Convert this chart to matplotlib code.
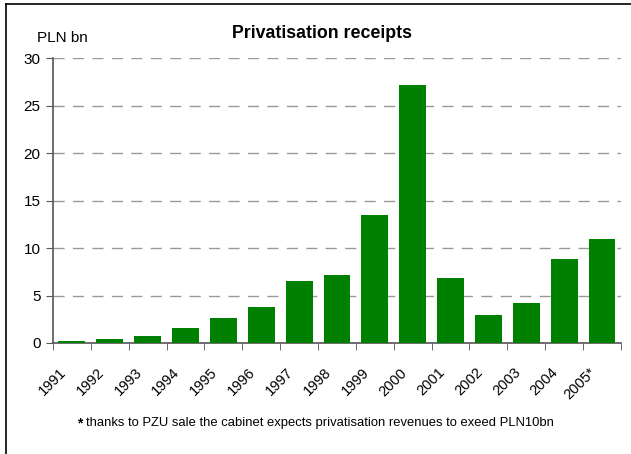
import matplotlib.pyplot as plt
from matplotlib.lines import Line2D
from matplotlib.transforms import ScaledTranslation

plt.rcParams['font.family'] = ['Liberation Sans', 'DejaVu Sans']

years = ['1991', '1992', '1993', '1994', '1995', '1996', '1997', '1998',
         '1999', '2000', '2001', '2002', '2003', '2004', '2005*']
receipts = [0.2, 0.4, 0.75, 1.6, 2.6, 3.8, 6.5, 7.15,
            13.5, 27.2, 6.85, 2.95, 4.2, 8.85, 10.95]

fig = plt.figure(figsize=(6.31, 4.54), dpi=100)
ax = fig.add_axes([0.084, 0.2445, 0.9, 0.6275])

x = range(len(years))
ax.bar(x, receipts, width=0.71, color='#008000', zorder=3)

ax.set_xlim(-0.5, len(years) - 0.5)
ax.set_ylim(0, 30)
ax.set_yticks(range(0, 31, 5))
ax.tick_params(axis='y', labelsize=11, length=5, color='#555555', pad=4)

# category labels centred, tick marks between categories
ax.set_xticks(list(x))
ax.set_xticklabels(years, rotation=45, ha='right', rotation_mode='anchor', fontsize=10.5)
ax.tick_params(axis='x', which='major', length=0, pad=9)
ax.set_xticks([i - 0.5 for i in range(len(years) + 1)], minor=True)
ax.tick_params(axis='x', which='minor', length=5, color='#555555')
shift = ScaledTranslation(-0.13, -0.10, fig.dpi_scale_trans)
for lbl in ax.get_xticklabels():
    lbl.set_transform(lbl.get_transform() + shift)

for y in range(5, 31, 5):
    ax.axhline(y, color='#999999', lw=1, dashes=(8, 6), zorder=1)

for side in ['top', 'right']:
    ax.spines[side].set_visible(False)
for side in ['left', 'bottom']:
    ax.spines[side].set_color('#555555')
    ax.spines[side].set_linewidth(1.2)

fig.text(0.51, 0.927, 'Privatisation receipts', ha='center', va='center',
         fontsize=12.8, fontweight='bold')
fig.text(0.099, 0.916, 'PLN bn', ha='center', va='center', fontsize=11)

fig.text(0.122, 0.068, '*', ha='left', va='center', fontsize=10, fontweight='bold')
fig.text(0.137, 0.068,
         'thanks to PZU sale the cabinet expects privatisation revenues to exeed PLN10bn',
         ha='left', va='center', fontsize=9.4)

# frame lines along the top and left edge
fig.add_artist(Line2D([0.0095, 1.0], [0.991, 0.991], color='black', lw=1.2))
fig.add_artist(Line2D([0.0095, 0.0095], [0.0, 0.991], color='black', lw=1.2))

fig.savefig('out.png', dpi=100)
